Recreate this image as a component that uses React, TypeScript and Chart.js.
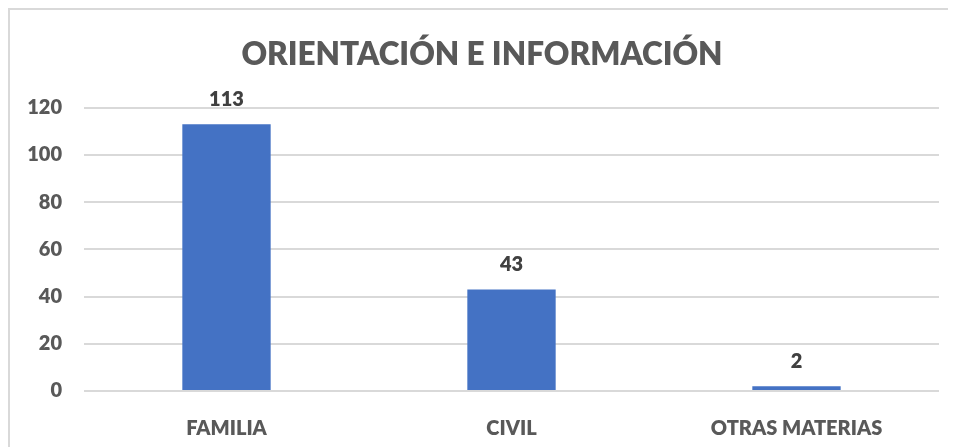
import React, { useEffect, useRef } from "react";
import { Chart, registerables } from "chart.js";

Chart.register(...registerables);

const TITLE = "ORIENTACIÓN E INFORMACIÓN";
const categories = ["FAMILIA", "CIVIL", "OTRAS MATERIAS"];
const values = [113, 43, 2];
const yMin = 0;
const yMax = 120;
const yStep = 20;

const FONT = "Lato, 'Open Sans', sans-serif";
const W = "800";

const dataLabelPlugin = {
  id: "dataLabels",
  afterDatasetsDraw(chart: any) {
    const ctx = chart.ctx;
    const meta = chart.getDatasetMeta(0);
    ctx.save();
    ctx.font = `${W} 20px ${FONT}`;
    ctx.fillStyle = "#404040";
    ctx.textAlign = "center";
    ctx.textBaseline = "bottom";
    meta.data.forEach((bar: any, i: number) => {
      ctx.fillText(String(values[i]), bar.x, bar.y - 15);
    });
    ctx.restore();
  },
};

export default function App() {
  const ref = useRef<HTMLCanvasElement | null>(null);
  useEffect(() => {
    if (!ref.current) return;
    const chart = new Chart(ref.current, {
      type: "bar",
      data: {
        labels: categories,
        datasets: [
          {
            data: values,
            backgroundColor: "#4472C4",
            borderWidth: 0,
            barPercentage: 0.31,
            categoryPercentage: 1,
          },
        ],
      },
      options: {
        animation: false,
        responsive: false,
        maintainAspectRatio: false,
        layout: { padding: { left: 15, right: 17, top: 0, bottom: 0 } },
        plugins: {
          legend: { display: false },
          tooltip: { enabled: false },
          title: {
            display: true,
            text: TITLE,
            color: "#595959",
            font: { family: FONT, size: 31.5, weight: W, lineHeight: 1.2 },
            padding: { top: 26, bottom: 34 },
          },
        },
        scales: {
          x: {
            grid: { display: false },
            border: { display: false },
            ticks: {
              color: "#595959",
              font: { family: FONT, size: 20, weight: W },
              padding: 18,
            },
            afterFit(scale: any) {
              scale.height = 56;
            },
          },
          y: {
            min: yMin,
            max: yMax,
            grid: { color: "#d9d9d9", lineWidth: 2, drawTicks: false },
            border: { display: false },
            ticks: {
              stepSize: yStep,
              color: "#595959",
              font: { family: FONT, size: 20, weight: W },
              padding: 22,
            },
            afterFit(scale: any) {
              scale.width = 59;
            },
          },
        },
      },
      plugins: [dataLabelPlugin],
    });
    return () => chart.destroy();
  }, []);

  return (
    <div
      style={{
        width: 947,
        height: 438,
        borderTop: "2px solid #d9d9d9",
        borderLeft: "2px solid #d9d9d9",
        overflow: "hidden",
      }}
    >
      <canvas ref={ref} width={946} height={437} style={{ display: "block" }} />
    </div>
  );
}
